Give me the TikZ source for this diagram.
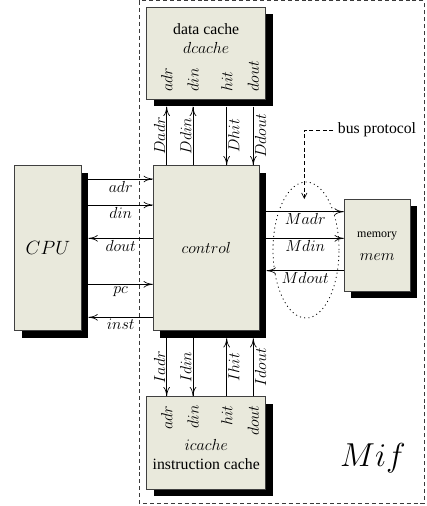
\documentclass[tikz,border=0pt]{standalone}
\usepackage{fontspec}
\setmainfont{Liberation Serif}
\usetikzlibrary{arrows.meta, calc, shadows, shapes.geometric}
\definecolor{boxfill}{HTML}{E9E9DC}
\definecolor{boxline}{HTML}{404040}
\definecolor{mifline}{HTML}{3A3A3A}

\begin{document}
\begin{tikzpicture}[x=0.75pt, y=-0.75pt,
    font=\fontsize{12}{14}\selectfont,
    unit/.style={draw=boxline, fill=boxfill, line width=0.6pt, inner sep=0pt,
        drop shadow={shadow xshift=5.25pt, shadow yshift=-5.25pt, fill=black, opacity=1}},
    port/.style={rotate=90, inner sep=1pt},
    txt/.style={font=\fontsize{11.8}{14}\selectfont},
    sig/.style={line width=0.5pt, -{To[length=7pt, width=5pt]}},
    siglabel/.style={inner sep=1.2pt},
]
\useasboundingbox (0,0) rectangle (427,506);

% Mif boundary
\draw[mifline, line width=0.75pt, dash pattern=on 3pt off 2.2pt] (139,1) rectangle (424,503);
\node[font=\fontsize{24.88}{30}\selectfont] (mif) at (373,458) {$Mif$};

% Units
\node[unit, minimum width=49.7pt, minimum height=123.75pt] (cpu) at (47.9,248.2) {};
\node[unit, minimum width=79.3pt, minimum height=123.75pt] (ctrl) at (206.2,248.2) {};
\node[unit, minimum width=89.25pt, minimum height=69pt] (dc) at (206.2,53.3) {};
\node[unit, minimum width=89.25pt, minimum height=69.2pt] (ic) at (206.2,442.8) {};
\node[unit, minimum width=49.3pt, minimum height=69pt] (mem) at (377.2,245) {};

% Unit texts
\node[font=\fontsize{14.4}{17}\selectfont] (cpuname) at (cpu) {$CPU$};
\node (ctrlname) at (ctrl) {$control$};
\node[txt] (dctitle) at (206.2,29) {data cache};
\node (dcname) at (206.2,48) {$dcache$};
\node (icname) at (206.2,445) {$icache$};
\node[txt] (ictitle) at (206.2,464) {instruction cache};
\node[font=\fontsize{9}{11}\selectfont] (memtitle) at (377.2,236) {memory};
\node (memname) at (377.2,257) {$mem$};

% Cache ports
\node[port, anchor=west] (dcadr) at (166.7,93) {$adr$};
\node[port, anchor=west] (dcdin) at (193,93) {$din$};
\node[port, anchor=west] (dchit) at (226.7,93) {$hit$};
\node[port, anchor=west] (dcdout) at (253.3,93) {$dout$};
\node[port, anchor=east] (icadr) at (166.7,404) {$adr$};
\node[port, anchor=east] (icdin) at (193,404) {$din$};
\node[port, anchor=east] (ichit) at (226.7,404) {$hit$};
\node[port, anchor=east] (icdout) at (253.3,404) {$dout$};

% Shadow edges
\coordinate (dcsh) at ($(dc.south)+(0,7)$);
\coordinate (ctrlsh) at ($(ctrl.south)+(0,7)$);
\coordinate (ctrlsr) at ($(ctrl.east)+(7,0)$);
\coordinate (cpush) at ($(cpu.east)+(7,0)$);

% Data cache signals
\draw[sig] (ctrl.north -| dcadr) -- (dcsh -| dcadr) node[midway, port, anchor=south] {$Dadr$};
\draw[sig] (ctrl.north -| dcdin) -- (dcsh -| dcdin) node[midway, port, anchor=south] {$Ddin$};
\draw[sig] (dcsh -| dchit) -- (ctrl.north -| dchit) node[midway, port, anchor=north] {$Dhit$};
\draw[sig] (dcsh -| dcdout) -- (ctrl.north -| dcdout) node[midway, port, anchor=north] {$Ddout$};

% Instruction cache signals
\draw[sig] (ctrlsh -| icadr) -- (ic.north -| icadr) node[midway, port, anchor=south] {$Iadr$};
\draw[sig] (ctrlsh -| icdin) -- (ic.north -| icdin) node[midway, port, anchor=south] {$Idin$};
\draw[sig] (ic.north -| ichit) -- (ctrlsh -| ichit) node[midway, port, anchor=north] {$Ihit$};
\draw[sig] (ic.north -| icdout) -- (ctrlsh -| icdout) node[midway, port, anchor=north] {$Idout$};

% CPU signals
\draw[sig] (cpush |- 0,179) -- (ctrl.west |- 0,179) node[midway, below, siglabel] {$adr$};
\draw[sig] (cpush |- 0,205) -- (ctrl.west |- 0,205) node[midway, below, siglabel] {$din$};
\draw[sig] (ctrl.west |- 0,238.3) -- (cpush |- 0,238.3) node[midway, below, siglabel] {$dout$};
\draw[sig] (cpush |- 0,284.3) -- (ctrl.west |- 0,284.3) node[midway, below, siglabel] {$pc$};
\draw[sig] (ctrl.west |- 0,317.3) -- (cpush |- 0,317.3) node[midway, below, siglabel] {$inst$};

% Memory bus
\node[draw, ellipse, dash pattern=on 0.8pt off 2.4pt, line width=0.6pt, inner sep=0pt,
    minimum width=49.5pt, minimum height=102pt] (busell) at (306,250) {};
\draw[sig] (ctrlsr |- 0,211.7) -- (mem.west |- 0,211.7) node[midway, below, siglabel] {$Madr$};
\draw[sig] (ctrlsr |- 0,238.3) -- (mem.west |- 0,238.3) node[midway, below, siglabel] {$Mdin$};
\draw[sig] (mem.west |- 0,270.7) -- (ctrlsr |- 0,270.7) node[midway, below, siglabel] {$Mdout$};

% Bus protocol note
\node[txt] (bus) at (377,130) {bus protocol};
\coordinate (bustip) at (304.3,199);
\draw[line width=0.5pt, dash pattern=on 3pt off 2pt, -{Straight Barb[length=4pt, width=4pt]}] (bus.west) -| (bustip);

\end{tikzpicture}
\end{document}
